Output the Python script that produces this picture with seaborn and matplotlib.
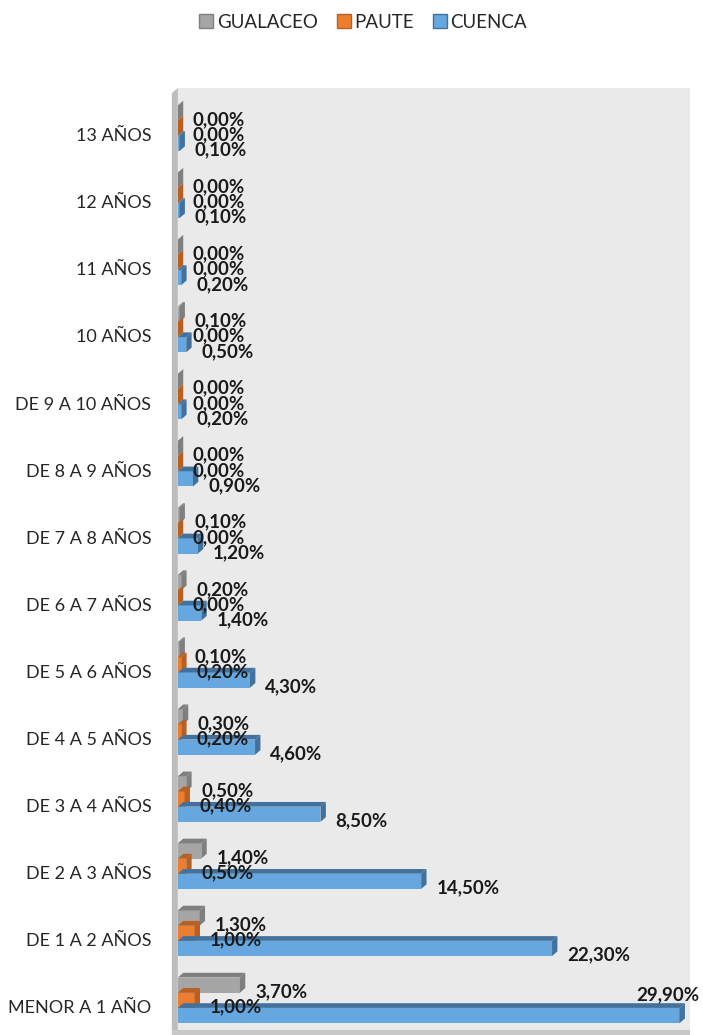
# -------------- IMPORTS -------------------#

import seaborn as sns
import matplotlib.pyplot as plt
import pandas as pd
from matplotlib.patches import Polygon, Rectangle
from matplotlib.lines import Line2D

# -------------- DATA -------------------#

categorias = ["13 AÑOS", "12 AÑOS", "11 AÑOS", "10 AÑOS", "DE 9 A 10 AÑOS",
              "DE 8 A 9 AÑOS", "DE 7 A 8 AÑOS", "DE 6 A 7 AÑOS", "DE 5 A 6 AÑOS",
              "DE 4 A 5 AÑOS", "DE 3 A 4 AÑOS", "DE 2 A 3 AÑOS", "DE 1 A 2 AÑOS",
              "MENOR A 1 AÑO"]
gualaceo = [0.0, 0.0, 0.0, 0.1, 0.0, 0.0, 0.1, 0.2, 0.1, 0.3, 0.5, 1.4, 1.3, 3.7]
paute = [0.0, 0.0, 0.0, 0.0, 0.0, 0.0, 0.0, 0.0, 0.2, 0.2, 0.4, 0.5, 1.0, 1.0]
cuenca = [0.1, 0.1, 0.2, 0.5, 0.2, 0.9, 1.2, 1.4, 4.3, 4.6, 8.5, 14.5, 22.3, 29.9]

series = ["GUALACEO", "PAUTE", "CUENCA"]
colores = {"GUALACEO": "#A5A5A5", "PAUTE": "#ED7D31", "CUENCA": "#65A7DE"}
oscuros = {"GUALACEO": "#7F7F7F", "PAUTE": "#B85F22", "CUENCA": "#41719C"}

df = pd.DataFrame({
    "categoria": categorias * 3,
    "serie": ["GUALACEO"] * 14 + ["PAUTE"] * 14 + ["CUENCA"] * 14,
    "valor": gualaceo + paute + cuenca,
})

# -------------- FIGURE -------------------#

sns.set_theme(style="white")
plt.rcParams['font.family'] = ['Lato', 'DejaVu Sans']

fig = plt.figure(figsize=(7.03, 10.35), dpi=100)
ax = fig.add_axes([0.253, 0.005, 0.728, 0.910])
ax.set_facecolor("#EAEAEA")

sns.barplot(data=df, y="categoria", x="valor", hue="serie", order=categorias,
            hue_order=series, palette=colores, width=0.68, orient="h",
            ax=ax, legend=False, linewidth=0, saturation=1)

xmax = 30.5
ytop, ybot = -0.6, 13.44
ax.set_xlim(0, xmax)
ax.set_ylim(ybot, ytop)
ax.set_xlabel("")
ax.set_ylabel("")
ax.set_xticks([])
ax.tick_params(axis="y", length=0, pad=19, labelsize=13, labelcolor="#262626")
for lbl in ax.get_yticklabels():
    lbl.set_va("top")  # un poco mas abajo, como el original
for s in ax.spines.values():
    s.set_visible(False)

# efecto 3D simple (cara superior y tapa derecha)
dx, dy = 0.32, 0.07
for i, serie in enumerate(series):
    cont = ax.containers[i]
    for bar in cont.patches:
        x0, y0 = bar.get_x(), bar.get_y()
        w, h = bar.get_width(), bar.get_height()
        top = Polygon([(x0, y0), (x0 + w, y0), (x0 + w + dx, y0 - dy), (x0 + dx, y0 - dy)],
                      closed=True, facecolor=oscuros[serie], edgecolor="none", zorder=3)
        side = Polygon([(x0 + w, y0), (x0 + w + dx, y0 - dy), (x0 + w + dx, y0 + h - dy), (x0 + w, y0 + h)],
                       closed=True, facecolor=oscuros[serie], edgecolor="none", zorder=3)
        ax.add_patch(top)
        ax.add_patch(side)

        # etiqueta de valor
        val = bar.get_width()
        txt = f"{val:.2f}%".replace(".", ",")
        yc = y0 + h / 2 + 0.1
        if val + 0.9 > xmax * 0.9:
            ax.text(val + 1.2, y0 - 0.2, txt, ha="right", va="center", fontsize=13.5,
                    fontweight="bold", color="#1a1a1a", zorder=5, clip_on=False)
        else:
            ax.text(val + 0.9, yc, txt, ha="left", va="center", fontsize=13.5,
                    fontweight="bold", color="#1a1a1a", zorder=5, clip_on=False)

# pared izquierda y piso
ax.add_patch(Polygon([(-0.36, ytop + 0.08), (0.0, ytop), (0.0, ybot), (-0.36, ybot + 0.08)], closed=True,
                     facecolor="#BDBDBD", edgecolor="none", clip_on=False, zorder=1))
ax.add_patch(Rectangle((-0.36, ybot), xmax + 0.36, 0.1, facecolor="#C8C8C8",
                       edgecolor="none", clip_on=False, zorder=1))

# -------------- LEGENDE -------------------#

handles = [Line2D([0], [0], marker="s", linestyle="", markersize=10,
                  markerfacecolor=colores[s], markeredgecolor=oscuros[s]) for s in series]
fig.legend(handles, series, loc="upper center", bbox_to_anchor=(0.515, 1.003), ncol=3,
           frameon=False, fontsize=13.5, handletextpad=0.05, columnspacing=0.9,
           labelcolor="#262626", handlelength=1.0)

fig.savefig("out.png", dpi=100)
